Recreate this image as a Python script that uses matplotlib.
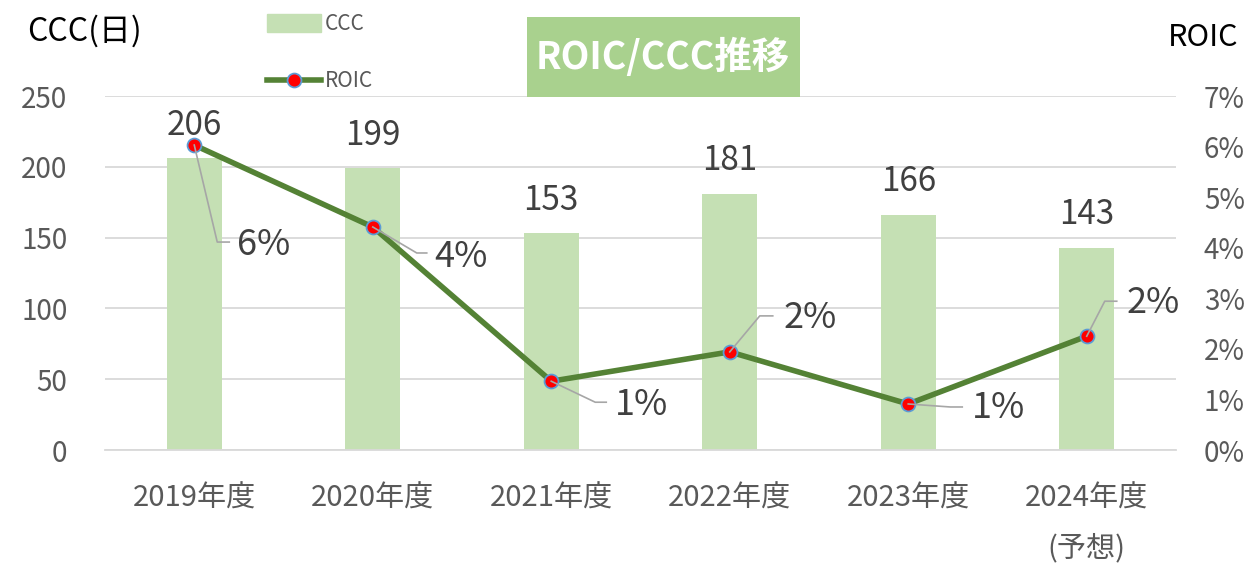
import numpy as np
import matplotlib.pyplot as plt
from matplotlib.lines import Line2D
from matplotlib.patches import Patch, Rectangle
from matplotlib.transforms import IdentityTransform

plt.rcParams['font.family'] = ['Noto Sans CJK JP', 'DejaVu Sans']

# Data
years = ['2019年度', '2020年度', '2021年度', '2022年度', '2023年度', '2024年度\n(予想)']
ccc = [206, 199, 153, 181, 166, 143]
roic = [6.03, 4.41, 1.36, 1.94, 0.91, 2.25]
roic_labels = ['6%', '4%', '1%', '2%', '1%', '2%']

# leader/label offsets in pixels (corner, end of leader, text)
corner_off = [(23, -97), (44, -26), (44, -21), (30, 36), (42, -3), (18, 35)]
end_off = [(35, -97), (54, -26), (55, -21), (43, 36), (54, -3), (30, 35)]
text_off = [(43, -100), (62, -30), (64, -24), (54, 34), (64, -4), (40, 33)]

W, H = 1249, 568
fig = plt.figure(figsize=(W / 100, H / 100), dpi=100)
ax = fig.add_axes([105 / W, 1 - 450 / H, (1176 - 105) / W, (450 - 96) / H])
ax2 = ax.twinx()

x = np.arange(len(years))
bar_c = '#c5e0b4'
line_c = '#548235'
grid_c = '#d9d9d9'
tick_c = '#595959'
lab_c = '#404040'

ax.bar(x, ccc, width=0.31, color=bar_c, zorder=2)
ax.set_xlim(-0.5, len(years) - 0.5)
ax.set_ylim(0, 250)
ax.set_yticks(range(0, 251, 50))
ax.yaxis.grid(True, color=grid_c, lw=1.3, zorder=0)
ax.set_axisbelow(True)
for s in ax.spines.values():
    s.set_visible(False)
for s in ax2.spines.values():
    s.set_visible(False)
ax.spines['bottom'].set_visible(True)
ax.spines['bottom'].set_color(grid_c)
ax.spines['bottom'].set_linewidth(1.3)
ax.tick_params(axis='y', length=0, pad=27, labelsize=20, labelcolor=tick_c)
ax.tick_params(axis='x', length=0, pad=24, labelsize=21, labelcolor=tick_c)
ax.set_xticks(x)
ax.set_xticklabels(years, linespacing=1.85, va='top')

for i, v in enumerate(ccc):
    ax.annotate(str(v), (i, v), xytext=(0, 33), textcoords='offset pixels',
                ha='center', va='center', fontsize=24, color=lab_c)

ax2.plot(x, roic, color=line_c, lw=4, marker='o', ms=10,
         mfc='red', mec='#5b9bd5', mew=1.3, zorder=5)
ax2.set_ylim(0, 7)
ax2.set_yticks(range(0, 8))
ax2.set_yticklabels([f'{t}%' for t in range(0, 8)])
ax2.tick_params(axis='y', length=0, pad=20, labelsize=20, labelcolor=tick_c)

# ROIC labels with leader lines
fig.canvas.draw()
for i, v in enumerate(roic):
    px, py = ax2.transData.transform((i, v))
    cx, cy = corner_off[i]
    ex, ey = end_off[i]
    fig.add_artist(Line2D([px, px + cx, px + ex], [py, py + cy, py + ey],
                          transform=IdentityTransform(), color='#a6a6a6', lw=1.2, zorder=4))
    tx, ty = text_off[i]
    fig.text((px + tx) / W, (py + ty) / H, roic_labels[i], ha='left', va='center',
             fontsize=26, color=lab_c)

# axis titles
fig.text(27 / W, 1 - 31 / H, 'CCC(日)', ha='left', va='center', fontsize=23, color='black')
fig.text(1238 / W, 1 - 37 / H, 'ROIC', ha='right', va='center', fontsize=22, color='black')

# title box
fig.add_artist(Rectangle((527 / W, 1 - 97 / H), 273 / W, 80 / H,
                         transform=fig.transFigure, fc='#a9d18e', ec='none'))
fig.text(663 / W, 1 - 57 / H, 'ROIC/CCC推移', ha='center', va='center', fontsize=27,
         fontweight='bold', color='white')

# legend
fig.legend(handles=[Patch(color=bar_c, label='CCC'),
                    Line2D([], [], color=line_c, lw=4, marker='o', ms=10, mfc='red',
                           mec='#5b9bd5', mew=1.3, label='ROIC')],
           loc='upper left', bbox_to_anchor=(248 / W, 1.01), frameon=False,
           fontsize=15, labelcolor=tick_c, handlelength=2.6, handleheight=0.9,
           handletextpad=0.2, labelspacing=1.7)

fig.savefig('out.png', dpi=100)
